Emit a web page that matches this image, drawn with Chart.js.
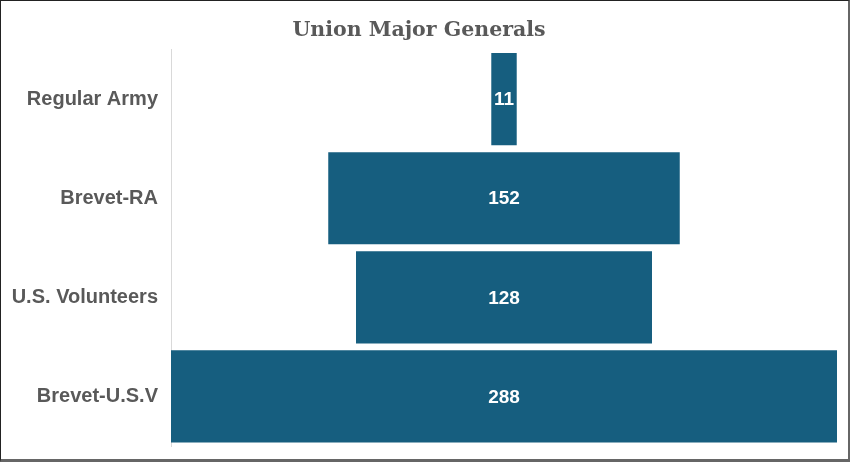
<!DOCTYPE html>
<html>
<head>
<meta charset="utf-8">
<script src="https://cdn.jsdelivr.net/npm/chart.js@4"></script>
<style>
  html, body { margin: 0; padding: 0; background: #fff; }
  #wrap {
    width: 850px; height: 462px; box-sizing: border-box;
    border-left: 1px solid #222; border-top: 1px solid #222;
    border-right: 2px solid #666; border-bottom: 3px solid #666;
    background: #fff;
  }
  canvas { display: block; }
</style>
</head>
<body>
<div id="wrap"><canvas id="chart" width="847" height="458"></canvas></div>
<script>
const categories = ['Regular Army', 'Brevet-RA', 'U.S. Volunteers', 'Brevet-U.S.V'];
const generals = [11, 152, 128, 288];

const maxValue = Math.max(...generals);
// funnel: each bar is centred on zero
const funnelBars = generals.map(v => [-v / 2, v / 2]);

const valueLabels = {
    id: 'valueLabels',
    afterDatasetsDraw(chart) {
        const ctx = chart.ctx;
        const meta = chart.getDatasetMeta(0);
        ctx.save();
        ctx.fillStyle = '#ffffff';
        ctx.font = 'bold 19px "Liberation Sans", Arial, sans-serif';
        ctx.textAlign = 'center';
        ctx.textBaseline = 'middle';
        meta.data.forEach((bar, i) => {
            const x = chart.scales.x.getPixelForValue(0);
            ctx.fillText(generals[i], x, bar.y + 1);
        });
        ctx.restore();
    }
};

const ctx = document.getElementById('chart').getContext('2d');
const chart = new Chart(ctx, {
    type: 'bar',
    data: {
        labels: categories,
        datasets: [{
            data: funnelBars,
            backgroundColor: '#165e7f',
            borderSkipped: false,
            barPercentage: 0.93,
            categoryPercentage: 1
        }]
    },
    options: {
        indexAxis: 'y',
        responsive: false,
        animation: false,
        layout: { padding: { left: 0, right: 11, top: 0, bottom: 13 } },
        plugins: {
            legend: { display: false },
            tooltip: { enabled: false },
            title: {
                display: true,
                text: 'Union Major Generals',
                color: '#595959',
                font: { family: '"DejaVu Serif", Rockwell, serif', size: 20.5, weight: 'bold' },
                padding: { top: 17, bottom: 7 }
            }
        },
        scales: {
            x: {
                display: false,
                min: -maxValue / 2,
                max: maxValue / 2
            },
            y: {
                grid: { display: false, drawTicks: false },
                border: { display: true, color: '#d9d9d9', width: 1 },
                ticks: {
                    color: '#595959',
                    padding: 13,
                    autoSkip: false,
                    font: { family: '"Liberation Sans", Arial, sans-serif', size: 20, weight: 'bold' }
                },
                afterFit(scale) {
                    scale.width = 170;
                    scale.paddingTop = 0;
                    scale.paddingBottom = 0;
                }
            }
        }
    },
    plugins: [valueLabels]
});
</script>
</body>
</html>
